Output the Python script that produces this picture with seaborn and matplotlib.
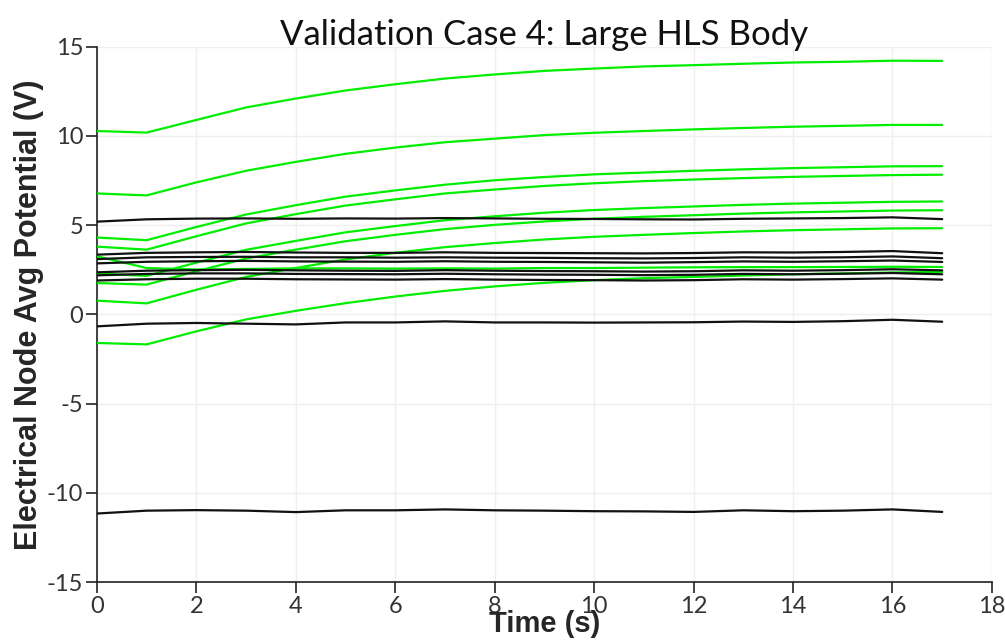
import pandas as pd
import matplotlib
matplotlib.use("Agg")
import matplotlib.pyplot as plt
import seaborn as sns

# time steps (s)
time = list(range(18))

# green traces (upper / rising potentials)
g1 = [10.28, 10.19, 10.9, 11.6, 12.1, 12.55, 12.9, 13.22, 13.45, 13.65, 13.78, 13.9, 13.97, 14.05, 14.12, 14.16, 14.22, 14.21]
g2 = [6.78, 6.67, 7.4, 8.05, 8.55, 9.0, 9.35, 9.65, 9.85, 10.05, 10.18, 10.28, 10.37, 10.45, 10.52, 10.57, 10.62, 10.62]
g3 = [4.31, 4.16, 4.9, 5.6, 6.12, 6.6, 6.95, 7.27, 7.52, 7.7, 7.85, 7.95, 8.05, 8.13, 8.2, 8.25, 8.3, 8.31]
g4 = [3.8, 3.63, 4.38, 5.1, 5.62, 6.1, 6.45, 6.78, 7.0, 7.2, 7.35, 7.47, 7.56, 7.64, 7.71, 7.76, 7.81, 7.83]
g5 = [2.3, 2.16, 2.9, 3.62, 4.12, 4.6, 4.95, 5.28, 5.5, 5.7, 5.85, 5.96, 6.05, 6.14, 6.21, 6.26, 6.31, 6.33]
g6 = [1.76, 1.67, 2.42, 3.13, 3.63, 4.1, 4.46, 4.78, 5.02, 5.21, 5.36, 5.47, 5.56, 5.65, 5.72, 5.77, 5.82, 5.84]
g7 = [0.77, 0.62, 1.38, 2.1, 2.6, 3.08, 3.45, 3.77, 4.0, 4.2, 4.35, 4.46, 4.56, 4.65, 4.72, 4.77, 4.82, 4.83]
g8 = [3.26, 2.6, 2.52, 2.55, 2.58, 2.58, 2.57, 2.58, 2.57, 2.6, 2.6, 2.62, 2.64, 2.65, 2.65, 2.66, 2.67, 2.66]
g9 = [-1.6, -1.68, -0.95, -0.28, 0.2, 0.63, 1.0, 1.32, 1.57, 1.77, 1.92, 2.03, 2.1, 2.18, 2.25, 2.3, 2.35, 2.38]

# black traces (nearly flat potentials)
b1 = [5.2, 5.33, 5.37, 5.38, 5.36, 5.38, 5.37, 5.4, 5.38, 5.36, 5.35, 5.33, 5.32, 5.36, 5.38, 5.4, 5.44, 5.34]
b2 = [3.35, 3.45, 3.48, 3.5, 3.47, 3.45, 3.45, 3.48, 3.45, 3.44, 3.43, 3.42, 3.44, 3.48, 3.47, 3.5, 3.55, 3.43]
b3 = [3.1, 3.2, 3.22, 3.23, 3.2, 3.2, 3.18, 3.2, 3.18, 3.17, 3.15, 3.14, 3.16, 3.2, 3.18, 3.2, 3.25, 3.15]
b4 = [2.86, 2.95, 2.98, 3.0, 2.97, 2.96, 2.95, 2.98, 2.95, 2.94, 2.92, 2.9, 2.93, 2.97, 2.95, 2.98, 3.02, 2.94]
b5 = [2.36, 2.45, 2.48, 2.5, 2.47, 2.45, 2.44, 2.48, 2.45, 2.43, 2.42, 2.4, 2.42, 2.47, 2.45, 2.48, 2.53, 2.47]
b6 = [2.19, 2.27, 2.3, 2.3, 2.27, 2.26, 2.25, 2.28, 2.25, 2.23, 2.22, 2.2, 2.22, 2.27, 2.25, 2.28, 2.32, 2.25]
b7 = [1.9, 1.97, 2.0, 2.0, 1.97, 1.96, 1.95, 1.98, 1.95, 1.93, 1.92, 1.9, 1.92, 1.97, 1.95, 1.98, 2.02, 1.95]
b8 = [-0.67, -0.52, -0.48, -0.52, -0.56, -0.45, -0.45, -0.39, -0.45, -0.45, -0.46, -0.45, -0.44, -0.4, -0.42, -0.38, -0.3, -0.41]
b9 = [-11.16, -11.0, -10.97, -11.0, -11.08, -10.98, -10.98, -10.93, -10.98, -11.0, -11.03, -11.04, -11.07, -10.98, -11.03, -11.0, -10.93, -11.07]

greens = {"g1": g1, "g2": g2, "g3": g3, "g4": g4, "g5": g5, "g6": g6, "g7": g7, "g8": g8, "g9": g9}
blacks = {"b1": b1, "b2": b2, "b3": b3, "b4": b4, "b5": b5, "b6": b6, "b7": b7, "b8": b8, "b9": b9}

rows = []
for name, vals in greens.items():
    for t, v in zip(time, vals):
        rows.append({"time": t, "value": v, "series": name, "group": "green"})
for name, vals in blacks.items():
    for t, v in zip(time, vals):
        rows.append({"time": t, "value": v, "series": name, "group": "black"})
df = pd.DataFrame(rows)

sns.set_style("white")
plt.rcParams['font.family'] = ['Lato', 'DejaVu Sans']
plt.rcParams['axes.unicode_minus'] = False

fig = plt.figure(figsize=(10.05, 6.41), dpi=100)
ax = fig.add_axes([0.0965, 0.092, 0.8905, 0.835])

sns.lineplot(data=df, x="time", y="value", hue="group", units="series", estimator=None,
             palette={"green": "#00ee00", "black": "#111111"}, linewidth=1.6,
             legend=False, ax=ax, zorder=3)

ax.set_xlim(0, 18)
ax.set_ylim(-15, 15)
ax.set_xticks(range(0, 19, 2))
ax.set_yticks(range(-15, 16, 5))
ax.grid(True, color="#efefef", linewidth=1, zorder=0)
for s in ["top", "right"]:
    ax.spines[s].set_visible(False)
for s in ["left", "bottom"]:
    ax.spines[s].set_color("#222222")
    ax.spines[s].set_linewidth(1.2)
ax.tick_params(axis="both", direction="out", length=8, width=1.2, color="#222222",
               labelsize=17, labelcolor="#333333", left=True, bottom=True, pad=2)

ax.set_title("Validation Case 4: Large HLS Body", fontsize=25, color="#111111", pad=1)
ax.set_xlabel("Time (s)", fontsize=21, fontweight="bold",
              family=["Liberation Sans", "DejaVu Sans"], labelpad=-5)
ax.set_ylabel("Electrical Node Avg Potential (V)", fontsize=22, fontweight="bold",
              family=["Liberation Sans", "DejaVu Sans"], labelpad=2)

fig.savefig("out.png", dpi=100)
